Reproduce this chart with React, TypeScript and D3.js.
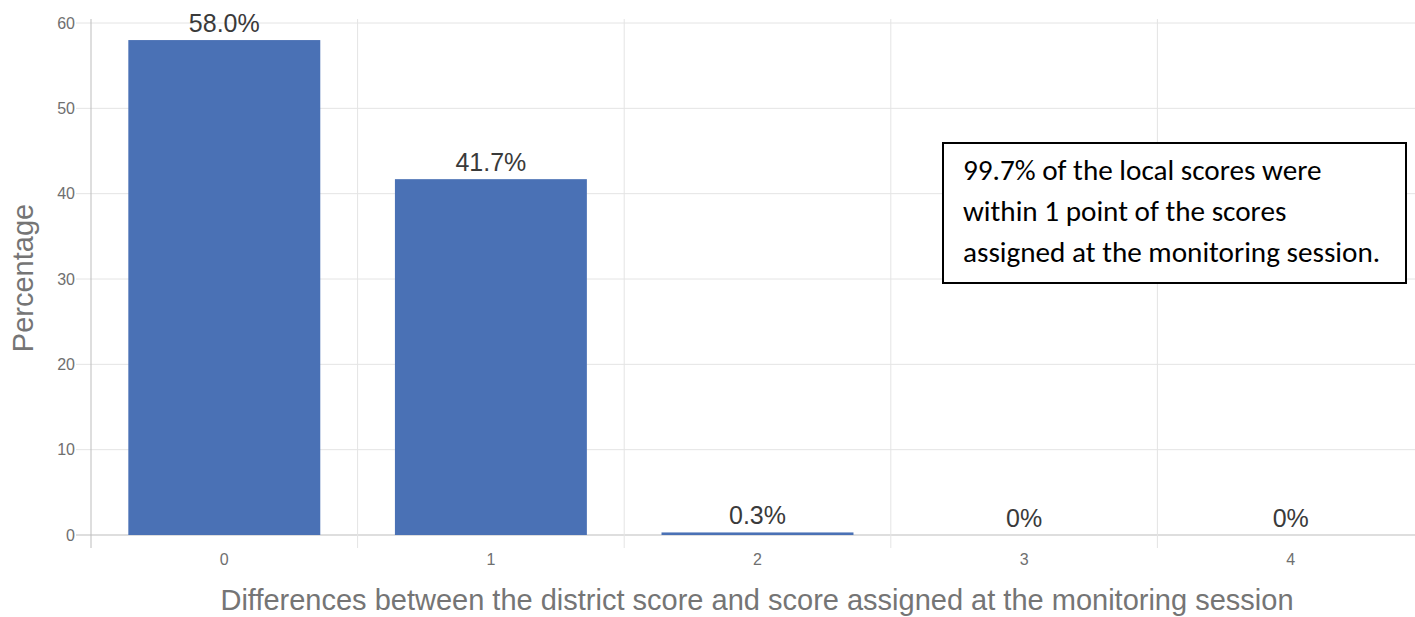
import React from "react";
import * as d3 from "d3";

const categories = ["0", "1", "2", "3", "4"];
const values = [58.0, 41.7, 0.3, 0, 0];
const valueLabels = ["58.0%", "41.7%", "0.3%", "0%", "0%"];
const yTicks = [0, 10, 20, 30, 40, 50, 60];
const noteLines = [
  "99.7% of the local scores were",
  "within 1 point of the scores",
  "assigned at the monitoring session.",
];
const xTitle = "Differences between the district score and score assigned at the monitoring session";
const yTitle = "Percentage";

const W = 1415;
const H = 617;
const left = 91;
const bandW = 266.6;
const top = 23;
const bottom = 535;

export default function App() {
  const x = d3
    .scaleBand<string>()
    .domain(categories)
    .range([left, left + bandW * categories.length])
    .paddingInner(0.28)
    .paddingOuter(0.14);
  const y = d3.scaleLinear().domain([0, 60]).range([bottom, top]);
  const step = x.step();
  const boundaries = categories.map((_, i) => left + i * step);

  return (
    <svg
      width={W}
      height={H}
      style={{ position: "absolute", left: 0, top: 0, background: "#fff" }}
      fontFamily="Liberation Sans, Arial, sans-serif"
    >
      {/* horizontal gridlines */}
      {yTicks.map((t) => (
        <g key={t}>
          <line x1={76} x2={W} y1={y(t)} y2={y(t)} stroke={t === 0 ? "#bdbdbd" : "#e4e4e4"} strokeWidth={1} />
          <text x={75} y={y(t)} dy="0.35em" textAnchor="end" fontSize={16} fill="#6f6f6f">
            {t}
          </text>
        </g>
      ))}
      {/* vertical gridlines */}
      {boundaries.map((b, i) => (
        <line
          key={i}
          x1={b}
          x2={b}
          y1={top - 4}
          y2={548}
          stroke={i === 0 ? "#bdbdbd" : "#e4e4e4"}
          strokeWidth={1}
        />
      ))}
      {/* bars */}
      {categories.map((c, i) => (
        <rect
          key={c}
          x={x(c)}
          y={y(values[i])}
          width={x.bandwidth()}
          height={bottom - y(values[i])}
          fill="#4A71B5"
        />
      ))}
      {/* value labels */}
      {categories.map((c, i) => (
        <text
          key={c}
          x={(x(c) as number) + x.bandwidth() / 2}
          y={y(values[i]) - 8}
          textAnchor="middle"
          fontSize={25}
          fill="#3a3a3a"
        >
          {valueLabels[i]}
        </text>
      ))}
      {/* x tick labels */}
      {categories.map((c) => (
        <text
          key={c}
          x={(x(c) as number) + x.bandwidth() / 2}
          y={559}
          dy="0.35em"
          textAnchor="middle"
          fontSize={16}
          fill="#6f6f6f"
        >
          {c}
        </text>
      ))}
      {/* axis titles */}
      <text x={757} y={610} textAnchor="middle" fontSize={29} fill="#757575">
        {xTitle}
      </text>
      <text
        transform={`translate(33, 278) rotate(-90)`}
        textAnchor="middle"
        fontSize={29}
        fill="#757575"
      >
        {yTitle}
      </text>
      {/* annotation box */}
      <rect x={943} y={143} width={463} height={140} fill="#fff" stroke="#000" strokeWidth={2} />
      {noteLines.map((l, i) => (
        <text
          key={i}
          x={963}
          y={180 + i * 41}
          fontSize={29.2}
          fill="#000"
          fontFamily="Carlito, Open Sans, Noto Sans, sans-serif"
        >
          {l}
        </text>
      ))}
    </svg>
  );
}
